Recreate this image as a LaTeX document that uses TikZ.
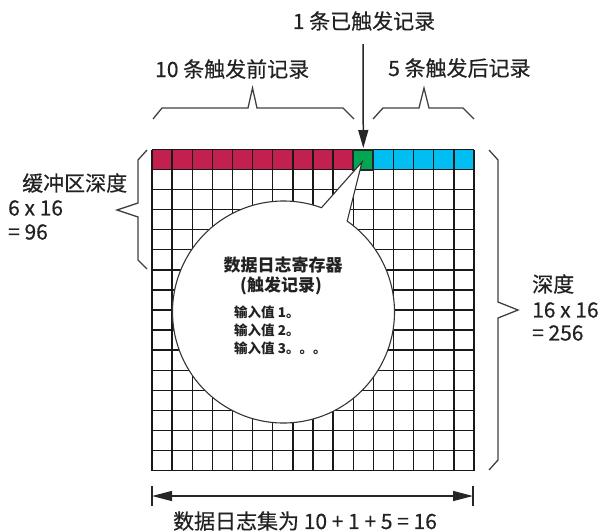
\documentclass[tikz,border=0pt]{standalone}
\usepackage{fontspec}
\setmainfont{Noto Sans CJK SC}
\newfontfamily\medfont{Noto Sans CJK SC}[FakeBold=0.5]
\usetikzlibrary{arrows.meta,calc}
\definecolor{crim}{HTML}{C2214F}
\definecolor{cyn}{HTML}{00BEF2}
\definecolor{grn}{HTML}{00A651}
\definecolor{ink}{HTML}{222222}
\begin{document}
\begin{tikzpicture}[x=1pt,y=-1pt,
  lbl/.style={font=\medfont\fontsize{21}{24}\selectfont, inner sep=0pt, text=ink},
  inlbl/.style={font=\bfseries\fontsize{13.5}{16}\selectfont, inner sep=0pt, text=ink},
  titlbl/.style={font=\bfseries\fontsize{17}{18}\selectfont, inner sep=0pt, text=ink},
  gl/.style={line width=1.3pt, draw=black!90},
  bracket/.style={line width=1.3pt, draw=black!75, line join=miter},
  callout/.style={fill=white, draw=black!80, line width=1.1pt},
  pointer/.style={line width=1.5pt, draw=black!85, -{Triangle[length=18pt,width=10pt]}},
  dimline/.style={line width=1.3pt, draw=black!85, {Triangle[length=20pt,width=10pt]}-{Triangle[length=20pt,width=10pt]}}
]
\useasboundingbox (0,0) rectangle (601,531);
\def\cw{20.125}
\def\ch{20.06}
% top row fills
\foreach \i in {0,...,9} \fill[crim] ({152+\i*\cw},149.5) rectangle ++(\cw,\ch);
\fill[grn] ({152+10*\cw},149.5) rectangle ++(\cw,\ch);
\foreach \i in {11,...,15} \fill[cyn] ({152+\i*\cw},149.5) rectangle ++(\cw,\ch);
% grid lines
\foreach \i in {0,...,16} {
  \draw[gl] ({152+\i*\cw},149.5) -- ({152+\i*\cw},470.5);
  \draw[gl] (152,{149.5+\i*\ch}) -- (474,{149.5+\i*\ch});
}
\draw[line width=2pt, draw=black!85] ({152+10*\cw},149.5) rectangle ++(\cw,\ch);
\coordinate (green) at ({152+10.5*\cw},148);
% callout
\coordinate (C) at (283.5,312);
\coordinate (tip) at (362,162);
\filldraw[callout] ($(C)+(70:111pt)$) -- (tip) -- ($(C)+(55:111pt)$) arc[start angle=55, end angle=-290, radius=111pt] -- cycle;
\node[titlbl] (t1) at (283,265) {数据日志寄存器};
\node[titlbl] (t2) at (281,286) {(触发记录)};
\node[inlbl, anchor=west] (v1) at (234,312) {输入值 1。};
\node[inlbl, anchor=west] (v2) at (234,330) {输入值 2。};
\node[inlbl, anchor=west] (v3) at (234,348) {输入值 3。。。};
% trigger label and arrow
\node[lbl] (trig) at (364,21) {1 条已触发记录};
\coordinate (trigtop) at (363,44);
\draw[pointer] (trigtop) -- (green);
% pre-trigger bracket
\node[lbl, anchor=west] (pre) at (155,69) {10 条触发前记录};
\draw[bracket] (153,119) -- (162,108) -- (248,108) -- (252.5,88) -- (257,108) -- (343,108) -- (354,119);
% post-trigger bracket
\node[lbl, anchor=west] (post) at (388,68) {5 条触发后记录};
\draw[bracket] (373,119) -- (383,108) -- (419,108) -- (424,88) -- (429,108) -- (463,108) -- (474,119);
% left brace
\draw[bracket] (147,150) -- (138,160) -- (138,203) -- (117,210) -- (138,217) -- (138,260) -- (147,269);
\node[lbl, anchor=west] (bd1) at (22,183) {缓冲区深度};
\node[lbl, anchor=west] (bd2) at (8,208) {6 x 16};
\node[lbl, anchor=west] (bd3) at (8,232) {= 96};
% right brace
\draw[bracket] (489,150) -- (498,160) -- (498,302) -- (518,310) -- (498,318) -- (498,460) -- (489,470);
\node[lbl, anchor=west] (d1) at (532,284) {深度};
\node[lbl, anchor=west] (d2) at (532,310) {16 x 16};
\node[lbl, anchor=west] (d3) at (532,333) {= 256};
% bottom dimension
\coordinate (bl) at (152,496);
\coordinate (br) at (473,496);
\draw[line width=1.3pt, draw=black!85] (152,486) -- (152,506) (473,486) -- (473,506);
\draw[dimline] (bl) -- (br);
\node[lbl] (sum) at (305,521) {数据日志集为 10 + 1 + 5 = 16};
\end{tikzpicture}
\end{document}
